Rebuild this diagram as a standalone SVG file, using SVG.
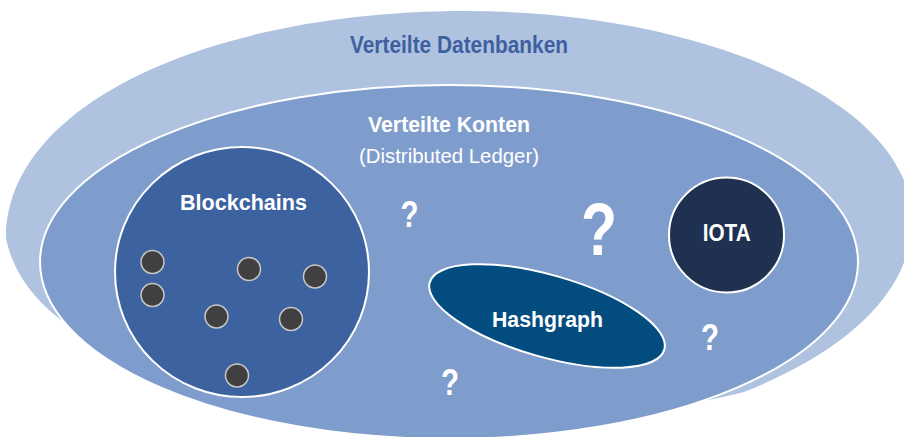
<svg xmlns="http://www.w3.org/2000/svg" width="904" height="437" viewBox="0 0 904 437">
<style>
text{font-family:"Liberation Sans",Arial,sans-serif;text-anchor:middle}
.b{font-weight:bold}
.w{fill:#ffffff}
.ring{stroke:#ffffff;stroke-width:2}
.dot{fill:#404040;stroke:#c8c8c8;stroke-width:1.5}
.q{font-weight:bold;fill:#ffffff}
</style>
<rect width="904" height="437" fill="#ffffff"/>
<g id="verteilte-datenbanken">
<path d="M 6 238 C 6 100, 220 11, 465 11 C 700 11, 912 100, 912 220 C 912 290, 850 350, 744 392 C 600 430, 300 420, 160 370 C 100 350, 20 310, 6 238 Z" fill="#afc3e1"/>
<text x="459" y="53" class="b" font-size="23" fill="#3e609e" textLength="218" lengthAdjust="spacingAndGlyphs">Verteilte Datenbanken</text>
</g>
<g id="verteilte-konten">
<ellipse cx="449" cy="262" rx="409" ry="177" fill="#7f9dcc" class="ring"/>
<text x="449" y="132" class="b w" font-size="22" textLength="162" lengthAdjust="spacingAndGlyphs">Verteilte Konten</text>
<text x="449" y="163" class="w" font-size="21" textLength="180" lengthAdjust="spacingAndGlyphs">(Distributed Ledger)</text>
</g>
<g id="blockchains">
<ellipse cx="242" cy="272" rx="127" ry="125" fill="#3d62a0" class="ring"/>
<text x="243.5" y="210" class="b w" font-size="22" textLength="127" lengthAdjust="spacingAndGlyphs">Blockchains</text>
<circle class="dot" cx="152.5" cy="262" r="11.5"/>
<circle class="dot" cx="152.5" cy="295" r="11.5"/>
<circle class="dot" cx="249" cy="269" r="11.5"/>
<circle class="dot" cx="315" cy="276.5" r="11.5"/>
<circle class="dot" cx="216.5" cy="316.5" r="11.5"/>
<circle class="dot" cx="291" cy="319" r="11.5"/>
<circle class="dot" cx="237" cy="375.5" r="11.5"/>
</g>
<g id="hashgraph">
<ellipse cx="547" cy="316" rx="122" ry="41" transform="rotate(16 547 316)" fill="#034c80" class="ring"/>
<text x="547.5" y="327" class="b w" font-size="22" textLength="111" lengthAdjust="spacingAndGlyphs">Hashgraph</text>
</g>
<g id="iota">
<circle cx="726.5" cy="235" r="57.5" fill="#1f3050" class="ring"/>
<text x="726.7" y="241" class="b w" font-size="23" textLength="48" lengthAdjust="spacingAndGlyphs">IOTA</text>
</g>
<g id="fragen">
<text x="409.5" y="227" class="q" font-size="37" textLength="18" lengthAdjust="spacingAndGlyphs">?</text>
<text x="599" y="255" class="q" font-size="74" textLength="36" lengthAdjust="spacingAndGlyphs">?</text>
<text x="710" y="350" class="q" font-size="37" textLength="18" lengthAdjust="spacingAndGlyphs">?</text>
<text x="450" y="395" class="q" font-size="37" textLength="18" lengthAdjust="spacingAndGlyphs">?</text>
</g>
<g id="connectors"></g>
</svg>
